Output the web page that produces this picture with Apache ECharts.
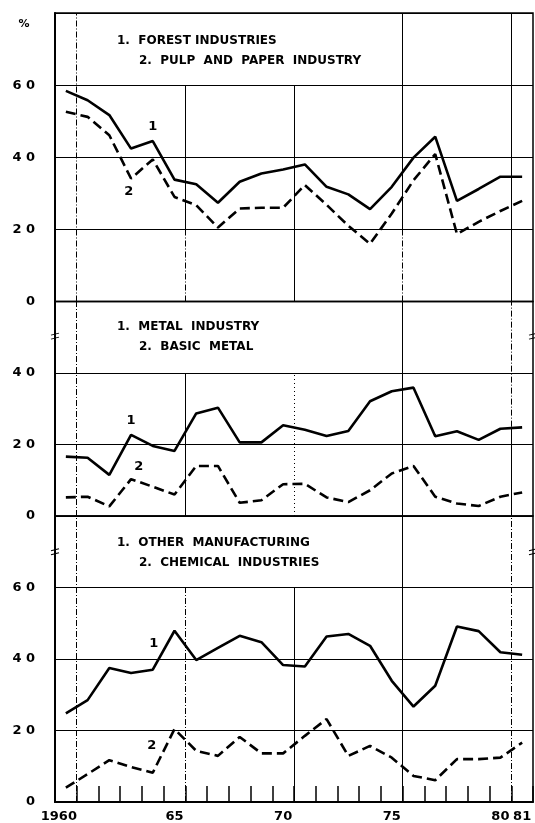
<!DOCTYPE html>
<html><head><meta charset="utf-8">
<script src="https://cdn.jsdelivr.net/npm/echarts@6/dist/echarts.min.js"></script>
<style>html,body{margin:0;padding:0;background:#fff}#c{width:535px;height:823px}</style>
</head><body><div id="c"></div>
<script>
// ---------------- data ----------------
const years = [1960,1961,1962,1963,1964,1965,1966,1967,1968,1969,1970,1971,1972,1973,1974,1975,1976,1977,1978,1979,1980,1981];
const tickLabels = ['1960','65','70','75','80','81'];
const labeledYears = [1960,1965,1970,1975,1980,1981];
const yTickValues = [0,20,40,60];
const yTickLabels = ['0','2 0','4 0','6 0'];

const forestIndustries   = [58.4,55.8,51.7,42.4,44.5,33.8,32.5,27.4,33.2,35.5,36.6,38.0,31.8,29.7,25.6,31.8,39.9,45.7,27.9,31.2,34.6,34.6];
const pulpAndPaper       = [52.6,51.2,46.1,34.1,39.4,29.0,26.7,20.5,25.8,26.0,26.0,32.3,26.8,21.0,16.0,24.4,33.6,40.9,18.7,22.1,25.1,27.9];
const metalIndustry      = [16.6,16.3,11.5,22.7,19.6,18.2,28.7,30.3,20.6,20.6,25.4,24.1,22.4,23.8,32.1,34.9,35.9,22.3,23.7,21.3,24.4,24.8];
const basicMetal         = [5.2,5.4,2.7,10.3,8.2,6.0,14.0,14.0,3.7,4.4,8.9,9.0,5.2,3.9,7.2,11.9,14.0,5.4,3.5,2.8,5.4,6.6];
const otherManufacturing = [24.8,28.5,37.5,36.1,37.0,47.9,39.7,43.1,46.5,44.7,38.3,37.9,46.3,47.0,43.7,33.9,26.7,32.5,49.1,47.8,41.9,41.2];
const chemicalIndustries = [4.0,7.8,11.7,9.8,8.2,20.4,14.3,12.9,18.2,13.6,13.6,18.5,23.2,12.9,15.7,12.4,7.3,6.1,12.0,12.0,12.4,16.6];

const panelTitles = [
  ['1.  FOREST INDUSTRIES', '2.  PULP  AND  PAPER  INDUSTRY'],
  ['1.  METAL  INDUSTRY', '2.  BASIC  METAL'],
  ['1.  OTHER  MANUFACTURING', '2.  CHEMICAL  INDUSTRIES']
];

// ---------------- styles ----------------
const FONT = 'DejaVu Sans';
const SOLID = 'solid';
const DASHDOT = [6, 2, 1, 2];
const DOTTED = [1, 3];
const panelMax = [80, 60, 80];

function vline(x, y0, y1, type) {
  return [
    {coord: [x, y0], lineStyle: {color: '#000', width: 1, type: type}},
    {coord: [x, y1]}
  ];
}
const vlines = [
  [vline(1960.5,0,80,DASHDOT), vline(1965.5,20,60,SOLID), vline(1965.5,0,20,DASHDOT),
   vline(1970.5,0,60,SOLID), vline(1975.5,20,80,SOLID), vline(1975.5,0,20,DASHDOT),
   vline(1980.5,0,80,SOLID)],
  [vline(1960.5,0,60,DASHDOT), vline(1965.5,0,40,SOLID), vline(1970.5,0,40,DOTTED),
   vline(1975.5,0,60,SOLID), vline(1980.5,25,60,DASHDOT), vline(1980.5,0,25,SOLID)],
  [vline(1960.5,0,80,DASHDOT), vline(1965.5,0,60,DASHDOT), vline(1970.5,0,60,SOLID),
   vline(1975.5,0,80,SOLID), vline(1980.5,0,80,DASHDOT)]
];
const numLabel = (t, coord) => ({coord, value: t, symbol: 'rect', symbolSize: 1,
  itemStyle: {color: 'rgba(0,0,0,0)'},
  label: {show: true, position: 'inside', formatter: t, color: '#000', fontFamily: FONT, fontWeight: 'bold', fontSize: 13}});
const breakMark = (coord) => ({coord, symbol: 'path://M0,2 L8,0 M0,6 L8,4', symbolSize: [8, 6],
  itemStyle: {color: 'rgba(0,0,0,0)', borderColor: '#000', borderWidth: 1}, label: {show: false}});

const numLabels = [
  [numLabel('1',[1964,48.6]), numLabel('2',[1962.9,30.5])],
  [numLabel('1',[1963,26.6]), numLabel('2',[1963.35,13.8]), breakMark([1959.5,50.3]), breakMark([1981.5,50.3])],
  [numLabel('1',[1964.05,44.2]), numLabel('2',[1963.95,15.8]), breakMark([1959.5,70]), breakMark([1981.5,70])]
];

function lineSeries(gi, name, values, dashed, withMarks) {
  const s = {
    type: 'line', name, xAxisIndex: gi, yAxisIndex: gi,
    data: years.map((y, i) => [y, values[i]]),
    symbol: 'none', silent: true, z: 5, clip: false,
    lineStyle: {color: '#000', width: 2.6, type: dashed ? [10, 5] : 'solid'},
    itemStyle: {color: '#000'}
  };
  if (withMarks) {
    s.markLine = {silent: true, symbol: ['none','none'], label: {show: false}, animation: false, z: 2, data: vlines[gi]};
    s.markPoint = {silent: true, animation: false, data: numLabels[gi]};
  }
  return s;
}

function yAxis(gi) {
  const max = panelMax[gi];
  return {
    type: 'value', gridIndex: gi, min: 0, max: max, interval: 20,
    axisLine: {show: true, lineStyle: {color: '#000', width: 2}},
    axisTick: {show: false},
    splitLine: {show: true, lineStyle: {color: '#000', width: 1.2}},
    axisLabel: {
      margin: 20, color: '#000', fontFamily: FONT, fontWeight: 'bold', fontSize: 13,
      formatter: v => { const k = yTickValues.indexOf(v); return (v === max || k < 0) ? '' : yTickLabels[k]; }
    }
  };
}

const graphic = [
  {type: 'text', x: 24, y: 24, style: {text: '%', font: 'bold 11px "DejaVu Sans"', fill: '#000', align: 'center', verticalAlign: 'middle'}}
];
const titleY = [[40.5, 60.5], [327.3, 347.3], [542.7, 563.3]];
panelTitles.forEach((pair, p) => {
  graphic.push({type: 'text', x: 117, y: titleY[p][0], style: {text: pair[0], font: 'bold 12px "DejaVu Sans"', fill: '#000', verticalAlign: 'middle'}});
  graphic.push({type: 'text', x: 139, y: titleY[p][1], style: {text: pair[1], font: 'bold 12px "DejaVu Sans"', fill: '#000', verticalAlign: 'middle'}});
});

const gridBase = {left: 55, right: 2, show: true, borderColor: '#000', borderWidth: 1.5, backgroundColor: 'transparent'};
const option = {
  animation: false,
  backgroundColor: '#fff',
  textStyle: {fontFamily: FONT},
  grid: [
    Object.assign({top: 13, height: 288.5}, gridBase),
    Object.assign({top: 301.5, height: 214.5}, gridBase),
    Object.assign({top: 516, height: 288}, gridBase)
  ],
  xAxis: [
    {type: 'value', gridIndex: 0, min: 1959.5, max: 1981.5, show: false},
    {type: 'value', gridIndex: 1, min: 1959.5, max: 1981.5, show: false},
    {type: 'value', gridIndex: 2, min: 1959.5, max: 1981.5, show: false, position: 'top'},
    {
      type: 'category', gridIndex: 2, data: years.map(String), boundaryGap: true, position: 'bottom',
      axisLine: {show: true, lineStyle: {color: '#000', width: 2}},
      axisTick: {show: true, inside: true, length: 16, interval: 0, lineStyle: {color: '#000', width: 1.5}},
      splitLine: {show: false},
      axisLabel: {
        interval: (i, v) => labeledYears.includes(+v),
        formatter: v => { const k = labeledYears.indexOf(+v); return k === 0 ? '{a|' + tickLabels[k] + '}' : tickLabels[k]; },
        rich: {a: {padding: [0, 14, 0, 0], color: '#000', fontFamily: FONT, fontWeight: 'bold', fontSize: 13}},
        margin: 8, color: '#000', fontFamily: FONT, fontWeight: 'bold', fontSize: 13
      }
    }
  ],
  yAxis: [yAxis(0), yAxis(1), yAxis(2)],
  graphic: graphic,
  series: [
    lineSeries(0, 'Forest industries', forestIndustries, false, true),
    lineSeries(0, 'Pulp and paper industry', pulpAndPaper, true, false),
    lineSeries(1, 'Metal industry', metalIndustry, false, true),
    lineSeries(1, 'Basic metal', basicMetal, true, false),
    lineSeries(2, 'Other manufacturing', otherManufacturing, false, true),
    lineSeries(2, 'Chemical industries', chemicalIndustries, true, false)
  ]
};
const chart = echarts.init(document.getElementById('c'));
chart.setOption(option);
</script>
</body></html>
